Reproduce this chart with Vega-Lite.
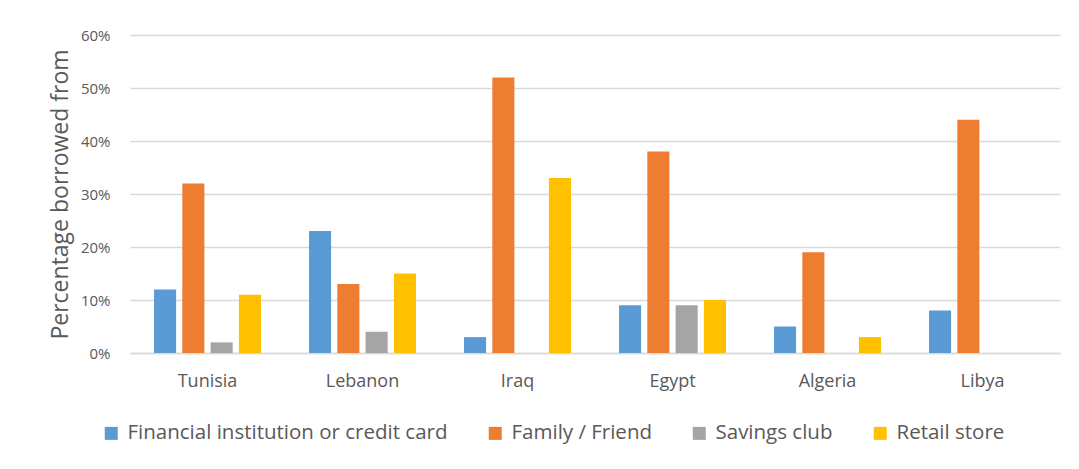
{
  "$schema": "https://vega.github.io/schema/vega-lite/v6.json",
  "width": 930,
  "height": 318,
  "autosize": {"type": "none"},
  "padding": {"left": 130, "top": 35, "right": 19, "bottom": 116},
  "background": "white",
  "data": {"values": [
    {"country": "Tunisia", "source": "Financial institution or credit card", "value": 0.12},
    {"country": "Tunisia", "source": "Family / Friend", "value": 0.32},
    {"country": "Tunisia", "source": "Savings club", "value": 0.02},
    {"country": "Tunisia", "source": "Retail store", "value": 0.11},
    {"country": "Lebanon", "source": "Financial institution or credit card", "value": 0.23},
    {"country": "Lebanon", "source": "Family / Friend", "value": 0.13},
    {"country": "Lebanon", "source": "Savings club", "value": 0.04},
    {"country": "Lebanon", "source": "Retail store", "value": 0.15},
    {"country": "Iraq", "source": "Financial institution or credit card", "value": 0.03},
    {"country": "Iraq", "source": "Family / Friend", "value": 0.52},
    {"country": "Iraq", "source": "Savings club", "value": 0.0},
    {"country": "Iraq", "source": "Retail store", "value": 0.33},
    {"country": "Egypt", "source": "Financial institution or credit card", "value": 0.09},
    {"country": "Egypt", "source": "Family / Friend", "value": 0.38},
    {"country": "Egypt", "source": "Savings club", "value": 0.09},
    {"country": "Egypt", "source": "Retail store", "value": 0.10},
    {"country": "Algeria", "source": "Financial institution or credit card", "value": 0.05},
    {"country": "Algeria", "source": "Family / Friend", "value": 0.19},
    {"country": "Algeria", "source": "Savings club", "value": 0.0},
    {"country": "Algeria", "source": "Retail store", "value": 0.03},
    {"country": "Libya", "source": "Financial institution or credit card", "value": 0.08},
    {"country": "Libya", "source": "Family / Friend", "value": 0.44},
    {"country": "Libya", "source": "Savings club", "value": 0.0},
    {"country": "Libya", "source": "Retail store", "value": 0.0}
  ]},
  "mark": {"type": "bar"},
  "encoding": {
    "x": {
      "field": "country", "type": "nominal",
      "sort": ["Tunisia", "Lebanon", "Iraq", "Egypt", "Algeria", "Libya"],
      "scale": {"paddingInner": 0.31, "paddingOuter": 0.155},
      "axis": {"title": null, "labelAngle": 0, "ticks": false, "domain": true, "domainColor": "#D9D9D9", "domainWidth": 1.5,
               "labelPadding": 19, "labelFont": "Open Sans", "labelFontSize": 18, "labelColor": "#595959"}
    },
    "xOffset": {
      "field": "source", "type": "nominal",
      "sort": ["Financial institution or credit card", "Family / Friend", "Savings club", "Retail store"],
      "scale": {"paddingInner": 0.22, "paddingOuter": 0}
    },
    "y": {
      "field": "value", "type": "quantitative",
      "scale": {"domain": [0, 0.6]},
      "axis": {"format": ".0%", "values": [0, 0.1, 0.2, 0.3, 0.4, 0.5, 0.6], "labelOverlap": false,
               "title": "Percentage borrowed from", "titleFont": "Open Sans", "titleFontSize": 23, "titleFontWeight": "normal",
               "titleColor": "#595959", "titlePadding": 8,
               "labelFont": "Open Sans", "labelFontSize": 15, "labelColor": "#595959", "labelPadding": 20,
               "ticks": false, "domain": false, "gridColor": "#D9D9D9", "gridWidth": 1.5}
    },
    "color": {
      "field": "source", "type": "nominal",
      "sort": ["Financial institution or credit card", "Family / Friend", "Savings club", "Retail store"],
      "scale": {"domain": ["Financial institution or credit card", "Family / Friend", "Savings club", "Retail store"],
                "range": ["#5B9BD5", "#ED7D31", "#A5A5A5", "#FFC000"]},
      "legend": {"title": null, "orient": "none", "legendX": -29, "legendY": 388, "direction": "horizontal",
                 "symbolType": "square", "symbolSize": 169, "symbolStrokeWidth": 0, "labelLimit": 600,
                 "labelFont": "Open Sans", "labelFontSize": 20.5, "labelColor": "#595959", "columnPadding": 37, "labelOffset": 6}
    }
  },
  "config": {"view": {"stroke": null}}
}
